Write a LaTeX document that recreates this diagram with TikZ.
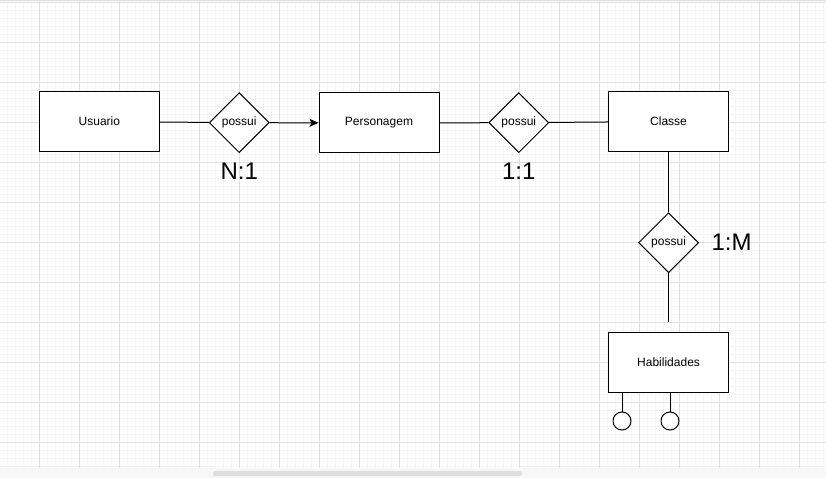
\documentclass[tikz,border=0pt]{standalone}
\usepackage{fontspec}
\setmainfont{Liberation Sans}
\usetikzlibrary{matrix,shapes.geometric,positioning,arrows.meta}

\tikzset{
  entity/.style={draw,fill=white,minimum width=120pt,minimum height=60pt,font=\fontsize{12}{14}\selectfont},
  rel/.style={draw,fill=white,diamond,minimum width=60pt,minimum height=60pt,inner sep=1pt,font=\fontsize{12}{14}\selectfont},
  attrib/.style={draw,fill=white,circle,minimum size=18pt,inner sep=0pt},
  card/.style={inner sep=0pt,font=\fontsize{24}{28}\selectfont},
  minorgrid/.style={draw=black!4,line width=0.8pt},
  majorgrid/.style={draw=black!12,line width=0.8pt},
}

\begin{document}
\begin{tikzpicture}[x=1pt,y=-1pt,line width=1pt]
  \useasboundingbox (0,0) rectangle (826,478);
  % background grid
  \foreach \gx in {-1,7,...,825} \draw[minorgrid] (\gx,0) -- (\gx,468);
  \foreach \gy in {2,10,...,466} \draw[minorgrid] (0,\gy) -- (826,\gy);
  \foreach \gx in {39,79,...,799} \draw[majorgrid] (\gx,0) -- (\gx,468);
  \foreach \gy in {2,42,...,442} \draw[majorgrid] (0,\gy) -- (826,\gy);
  \draw[black!12,line width=1.5pt] (0,0.75) -- (826,0.75);
  \fill[black!3] (0,468) rectangle (826,478);
  \fill[black!13,rounded corners=2pt] (213,471) rectangle (522,476);

  \matrix (m) [matrix of nodes,column sep=49pt,row sep=59pt] at (384,242)
  {
     |[entity]| Usuario & |[rel]| possui & |[entity]| Personagem & |[rel]| possui &[10pt] |[entity]| Classe \\
     & & & & |[rel]| possui \\
     & & & & |[entity]| Habilidades \\};
  \path[draw]
    (m-1-1) edge (m-1-2)
    (m-1-2) edge[-{Stealth[length=9pt,width=8pt,inset=2pt]}] (m-1-3)
    (m-1-3) edge (m-1-4)
    (m-1-4) edge (m-1-5)
    (m-1-5) edge (m-2-5)
            ;
  \coordinate[above=10pt of m-3-5] (habtop);
  \draw (m-2-5) -- (habtop);

  % attributes
  \node[attrib] (at1) at (622,421) {};
  \node[attrib] (at2) at (670,421) {};
  \draw (at1) -- (at1 |- m-3-5.south);
  \draw (at2) -- (at2 |- m-3-5.south);

  % cardinalities
  \node[card,below=9pt of m-1-2] (c1) {N:1};
  \node[card,below=9pt of m-1-4] (c2) {1:1};
  \node[card,right=12pt of m-2-5] (c3) {1:M};
\end{tikzpicture}
\end{document}
